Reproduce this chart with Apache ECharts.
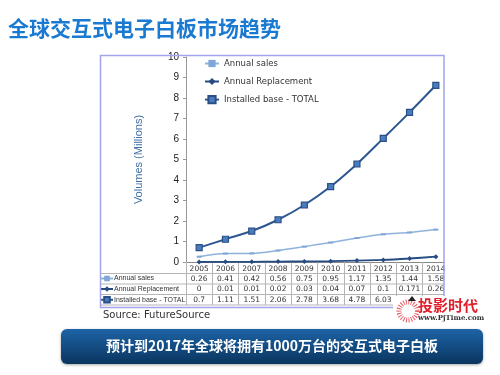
<!DOCTYPE html>
<html>
<head>
<meta charset="utf-8">
<script src="https://cdn.jsdelivr.net/npm/echarts@6/dist/echarts.min.js"></script>
<style>html,body{margin:0;padding:0;background:#fff}#c{width:500px;height:375px}</style>
</head>
<body>
<div id="c"></div>
<script>
const years = ['2005','2006','2007','2008','2009','2010','2011','2012','2013','2014'];
const annualSales = [0.26, 0.41, 0.42, 0.56, 0.75, 0.95, 1.17, 1.35, 1.44, 1.58];
const annualReplacement = [0, 0.01, 0.01, 0.02, 0.03, 0.04, 0.07, 0.1, 0.171, 0.26];
const installedBase = [0.7, 1.11, 1.51, 2.06, 2.78, 3.68, 4.78, 6.03, 7.3, 8.62];
const seriesNames = ['Annual sales', 'Annual Replacement', 'Installed base - TOTAL'];
const yTicks = [0, 1, 2, 3, 4, 5, 6, 7, 8, 9, 10];
const titleText = '全球交互式电子白板市场趋势';
const bannerText = '预计到2017年全球将拥有1000万台的交互式电子白板';
const sourceText = 'Source: FutureSource';

const chart = echarts.init(document.getElementById('c'), null, {renderer: 'canvas'});
const tableFont = 'DejaVu Sans';
function rowAxis(offset, arr) {
  return {
    type: 'category', data: years, position: 'bottom', offset: offset,
    axisLine: {show: false}, axisTick: {show: false},
    axisLabel: {interval: 0, hideOverlap: false, margin: 2, fontSize: 7.5, color: '#333', fontFamily: tableFont,
      formatter: (v, i) => String(arr[i])}
  };
}
const hLine = (y) => ({type: 'line', z: 50, shape: {x1: 100, y1: y, x2: 444, y2: y},
  style: {stroke: '#b5b5b5', lineWidth: 1}});

chart.setOption({
  animation: false,
  grid: {left: 186, right: 51, top: 57, bottom: 113},
  legend: [
    {orient: 'vertical', left: 204, top: 59, padding: 0, itemWidth: 14, itemHeight: 9, itemGap: 9,
     textStyle: {fontSize: 8.5, color: '#333', fontFamily: tableFont}, data: seriesNames},
    {orient: 'vertical', left: 100, top: 275, padding: 0, itemWidth: 12, itemHeight: 7, itemGap: 3.5,
     textStyle: {fontSize: 7, color: '#333', fontFamily: 'Liberation Sans', padding: [0,0,0,-4]},
     data: seriesNames}
  ],
  xAxis: [
    {type: 'category', data: years, position: 'bottom',
     axisLine: {lineStyle: {color: '#888', width: 1}},
     axisTick: {show: true, length: 43, lineStyle: {color: '#b5b5b5'}},
     axisLabel: {interval: 0, margin: 3, fontSize: 7.5, color: '#333', fontFamily: tableFont}},
    rowAxis(11, annualSales),
    rowAxis(21.5, annualReplacement),
    rowAxis(32, installedBase)
  ],
  yAxis: {
    type: 'value', min: 0, max: 10, interval: 1,
    axisLine: {show: true, lineStyle: {color: '#999'}},
    axisTick: {show: true, length: 3, lineStyle: {color: '#999'}},
    splitLine: {show: false},
    axisLabel: {fontSize: 10, color: '#222', margin: 7, fontFamily: 'Liberation Sans',
      formatter: v => yTicks.includes(v) ? String(v) : ''},
    name: 'Volumes (Millions)', nameLocation: 'middle', nameGap: 42, nameRotate: 90,
    nameTextStyle: {fontSize: 11, color: '#3d6fa6', fontFamily: 'Liberation Sans'}
  },
  series: [
    {name: seriesNames[0], type: 'line', data: annualSales, smooth: 0.3,
     symbol: 'rect', symbolSize: [5, 2],
     lineStyle: {color: '#8fb2dc', width: 1.5}, itemStyle: {color: '#7ea6d6'}},
    {name: seriesNames[1], type: 'line', data: annualReplacement, smooth: 0.3,
     symbol: 'diamond', symbolSize: 5,
     lineStyle: {color: '#264c82', width: 1.8}, itemStyle: {color: '#264c82'}},
    {name: seriesNames[2], type: 'line', data: installedBase, smooth: 0.3,
     symbol: 'rect', symbolSize: 6,
     lineStyle: {color: '#2d5690', width: 2}, itemStyle: {color: '#4a7dbd', borderColor: '#2a4f86', borderWidth: 1.2}}
  ],
  graphic: [
    {type: 'rect', z: 60, shape: {x: 445, y: 50, width: 20, height: 262}, style: {fill: '#fff'}},
    hLine(273.5), hLine(284), hLine(294.5), hLine(305),
    {type: 'rect', z: 70, shape: {x: 100.5, y: 55.5, width: 343.5, height: 252}, style: {fill: 'none', stroke: '#a3a3ee', lineWidth: 1.5}},
    {type: 'text', z: 80, left: 8, top: 18, style: {text: titleText, fill: '#1a7ad2',
      font: 'bold 21px "Noto Sans CJK SC"'}},
    {type: 'text', z: 80, left: 103, top: 310, style: {text: sourceText, fill: '#333',
      font: '10px "DejaVu Sans"'}},
    {type: 'rect', z: 80, shape: {x: 61, y: 329, width: 422, height: 35, r: 6},
     style: {fill: new echarts.graphic.LinearGradient(0, 0, 0, 1, [
       {offset: 0, color: '#1d63a6'}, {offset: 1, color: '#0a355f'}]),
       shadowBlur: 3, shadowColor: 'rgba(0,0,0,0.35)', shadowOffsetY: 1}},
    {type: 'text', z: 90, x: 272, y: 346, style: {text: bannerText, fill: '#fff',
      font: 'bold 14px "Noto Sans CJK SC"', align: 'center', verticalAlign: 'middle'}},
    {type: 'rect', z: 85, shape: {x: 393, y: 296, width: 107, height: 29}, style: {fill: '#fff'}},
    {type: 'circle', z: 90, shape: {cx: 408, cy: 311, r: 9}, style: {fill: 'none', stroke: '#e8606a', lineWidth: 5, lineDash: [1, 1.5]}},
    {type: 'circle', z: 90, shape: {cx: 411, cy: 311, r: 4}, style: {fill: '#fff'}},
    {type: 'polygon', z: 90, shape: {points: [[412, 296], [416, 301], [408, 301]]}, style: {fill: '#222'}},
    {type: 'text', z: 90, left: 418, top: 298, style: {text: '投影时代', fill: '#e0202c',
      font: 'bold 15px "Noto Sans CJK SC"'}},
    {type: 'text', z: 90, left: 418, top: 315, style: {text: 'www.PjTime.com', fill: '#333',
      font: 'bold 7px "DejaVu Serif"'}}
  ]
});
</script>
</body>
</html>
